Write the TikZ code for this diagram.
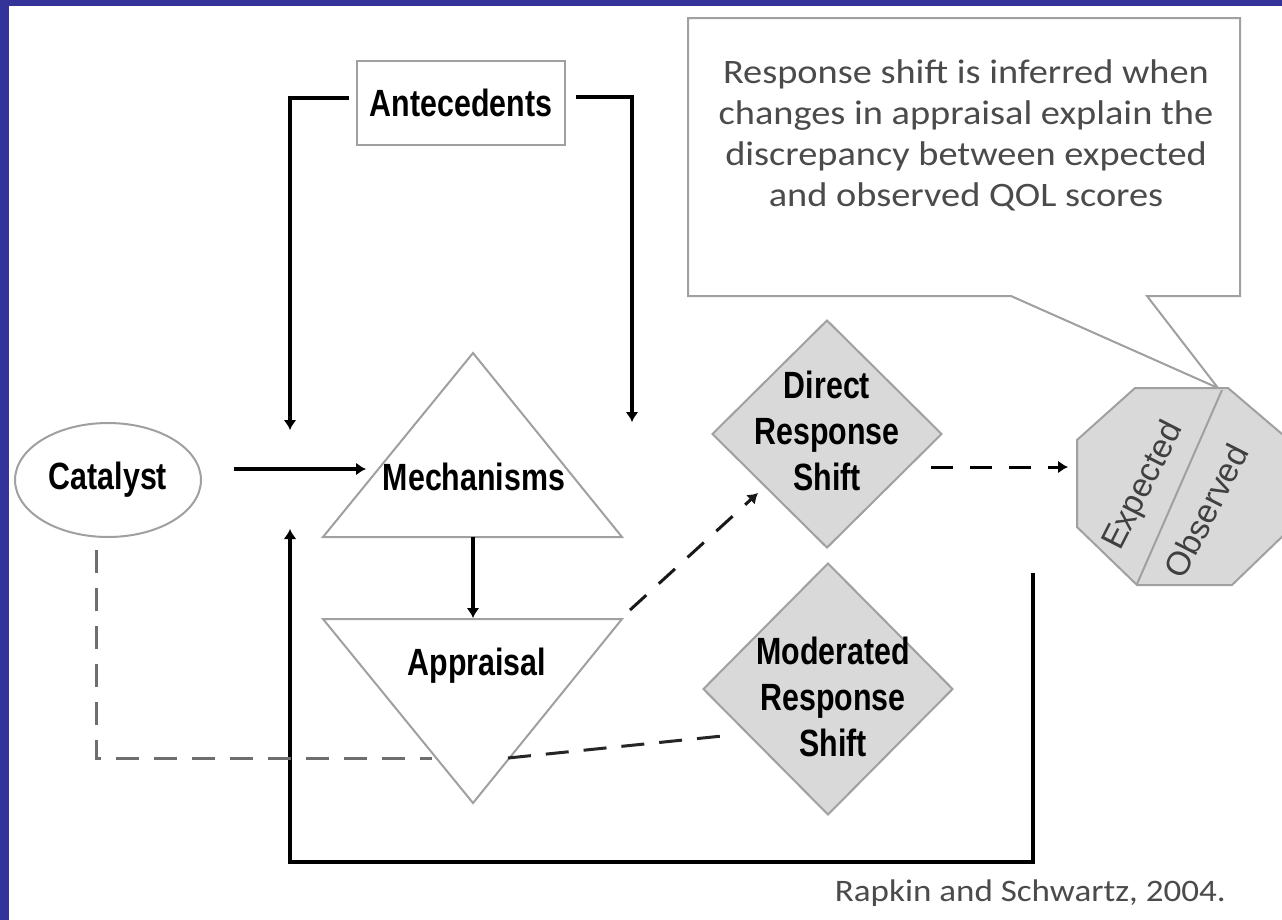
\documentclass[tikz,border=0pt]{standalone}
\usepackage{fontspec}
\setmainfont{Liberation Sans}
\newfontfamily\lblfont[FakeStretch=0.8]{Liberation Sans}
\newfontfamily\octfont{Liberation Sans}
\newfontfamily\notefont[FakeStretch=1.12]{Carlito}
\usetikzlibrary{shapes.geometric,arrows.meta,calc}
\definecolor{slideblue}{RGB}{51,51,153}
\definecolor{shapegray}{RGB}{160,160,160}
\definecolor{shapefill}{RGB}{217,217,217}
\definecolor{dashgray}{RGB}{110,110,110}
\definecolor{notegray}{RGB}{75,75,75}
\begin{document}
\begin{tikzpicture}[x=0.02cm,y=-0.02cm,
  shapeline/.style={draw=shapegray,line width=0.04cm},
  lbl/.style={font=\lblfont\bfseries\fontsize{21.6}{26.4}\selectfont,align=center,inner sep=0pt},
  octlbl/.style={font=\octfont\fontsize{19}{22}\selectfont,text=black!75,inner sep=0pt},
  notetext/.style={font=\notefont\fontsize{19.5}{23.3}\selectfont,text=notegray,align=center,inner sep=0pt},
  citetext/.style={font=\notefont\fontsize{17.8}{20}\selectfont,text=notegray,inner sep=0pt},
  tipstyle/.style={-{Latex[length=0.2cm,width=0.26cm]}},
  solidline/.style={line width=0.075cm,line join=miter},
  dashline/.style={line width=0.06cm,dash pattern=on 0.46cm off 0.3cm},
  dashline2/.style={line width=0.06cm,dash pattern=on 0.44cm off 0.34cm}]
\useasboundingbox (0,0) rectangle (1282,920);
\clip (0,0) rectangle (1282,920);
\fill[slideblue] (0,0) rectangle (1282,920);
\fill[white] (9,6) rectangle (1282,920);

% callout
\draw[shapeline,fill=white,line join=miter] (688,18) -- (1240,18) -- (1240,296) -- (1147,296) -- (1218,388) -- (1011,296) -- (688,296) -- cycle;
\node[notetext] (note) at (966,135) {Response shift is inferred when\\changes in appraisal explain the\\discrepancy between expected\\and observed QOL scores};

% Antecedents
\node[shapeline,rectangle,minimum width=4.16cm,minimum height=1.7cm,lbl] (ante) at (461,103) {Antecedents};

% Catalyst
\node[shapeline,ellipse,minimum width=3.72cm,minimum height=2.28cm,lbl] (cat) at (108,480) {Catalyst};

% Mechanisms triangle
\coordinate (mechtop) at (473,353);
\coordinate (mechbl) at (323,537);
\coordinate (mechbr) at (622,537);
\draw[shapeline,line join=miter] (mechtop) -- (mechbr) -- (mechbl) -- cycle;
\node[lbl] (mech) at (474,477) {Mechanisms};

% Appraisal triangle
\coordinate (apptl) at (323,619);
\coordinate (apptr) at (622,619);
\coordinate (appbot) at (473,803);
\draw[shapeline,line join=miter] (apptl) -- (apptr) -- (appbot) -- cycle;
\node[lbl] (appr) at (477,666) {Appraisal};

% Direct response shift
\node[diamond,shapeline,fill=shapefill,minimum width=4.6cm,minimum height=4.56cm,inner sep=0pt] (direct) at (827,434) {};
\node[lbl] (directtxt) at (827,431) {Direct\\Response\\Shift};

% Moderated response shift
\node[diamond,shapeline,fill=shapefill,minimum width=5.0cm,minimum height=5.04cm,inner sep=0pt] (moder) at (828,689) {};
\node[lbl] (modertxt) at (833,697) {Moderated\\Response\\Shift};

% Octagon
\coordinate (oct) at (1183,486);
\draw[shapeline,fill=shapefill,line join=miter] (1135,388) -- (1228,388) -- (1289,440) -- (1289,530) -- (1232,585) -- (1137,585) -- (1077,527) -- (1077,440) -- cycle;
\draw[shapeline] (1222,390) -- (1137,584);
\node[octlbl,rotate=63] (expected) at (1144,486) {Expected};
\node[octlbl,rotate=63] (observed) at (1206,511) {Observed};

% solid connectors
\coordinate (lefttip) at (290,430);
\coordinate (righttip) at (632,422);
\draw[solidline,tipstyle] ($(ante.west)+(-7,-5)$) -| (lefttip);
\draw[solidline,tipstyle] ($(ante.east)+(10,-6)$) -| (righttip);
\coordinate (catout) at ($(cat.east)+(32,-11)$);
\coordinate (mechin) at (366,469);
\draw[solidline,tipstyle] (catout) -- (mechin);
\coordinate (mechbase) at (473,537);
\coordinate (appin) at (473,618);
\draw[solidline,tipstyle] (mechbase) -- (appin);
\coordinate (fbstart) at (1033,573);
\coordinate (fbc1) at (1033,862);
\coordinate (fbc2) at (290,862);
\coordinate (fbtip) at (290,529);
\draw[solidline,tipstyle] (fbstart) -- (fbc1) -- (fbc2) -- (fbtip);

% dashed connectors
\coordinate (catdash) at (96,550);
\coordinate (catcorner) at (96,758);
\coordinate (catend) at (432,758);
\draw[dashline,draw=dashgray] (catdash) -- (catcorner) -- (catend);
\coordinate (appmod) at (508,758);
\coordinate (modin) at (732,735);
\draw[dashline,draw=black!85] (appmod) -- (modin);
\coordinate (appdir) at (630,610);
\coordinate (dirin) at (758,493);
\draw[dashline2,draw=black!90,tipstyle] (appdir) -- (dirin);
\coordinate (dirout) at (931,467);
\coordinate (octin) at (1068,467);
\draw[dashline2,draw=black,tipstyle] (dirout) -- (octin);

% citation
\node[citetext,anchor=east] (cite) at (1226,893) {Rapkin and Schwartz, 2004.};
\end{tikzpicture}
\end{document}
